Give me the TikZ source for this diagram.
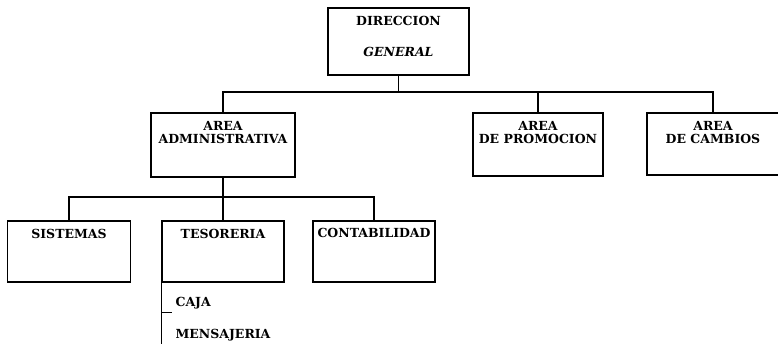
\documentclass[tikz,border=0pt]{standalone}
\usepackage{fontspec}
\setmainfont{DejaVu Serif}
\usepackage{tikz}
\usetikzlibrary{positioning,calc}

\begin{document}
\begin{tikzpicture}[x=1pt,y=-1pt,line width=1.1pt]
  \useasboundingbox (0,0) rectangle (778,344);
  \tikzstyle{unit_box}=[draw,rectangle,inner sep=0pt,minimum height=62pt]
  \tikzstyle{unit_text}=[inner sep=0pt,align=center,font=\fontsize{12.5}{13.5}\selectfont\bfseries]
  \tikzstyle{sub_text}=[inner sep=0pt,anchor=base west,font=\fontsize{12.5}{13.5}\selectfont\bfseries]
  % direccion
  \node[unit_box,minimum width=141pt,minimum height=67pt] (dir) at (398.5,41.5) {};
  \node[unit_text,below=8pt of dir.north] (dir_t) {DIRECCION\\[18pt]\itshape GENERAL};
  % areas
  \begin{scope}
    \node[unit_box,minimum width=144pt,minimum height=64pt] (admin) at (223,145) {};
    \node[unit_text,below=8pt of admin.north] (admin_t) {AREA\\ADMINISTRATIVA};
    \node[unit_box,minimum width=130pt,minimum height=63pt] (promo) at (538,144.5) {};
    \node[unit_text,below=8pt of promo.north] (promo_t) {AREA\\DE PROMOCION};
    \node[unit_box,minimum width=132pt,minimum height=62pt] (cambios) at (713,144) {};
    \node[unit_text,below=8pt of cambios.north] (cambios_t) {AREA\\DE CAMBIOS};
    \coordinate (bus1) at (398.5,92);
    \draw (dir.south) -- (bus1);
    \draw (admin.north) |- (bus1) -| (cambios.north);
    \draw (promo.north) -- (promo.north |- bus1);
  \end{scope}
  % departamentos
  \begin{scope}
    \node[unit_box,minimum width=123pt,minimum height=61pt] (sist) at (69,251.5) {};
    \node[unit_text,below=8pt of sist.north] (sist_t) {SISTEMAS};
    \node[unit_box,minimum width=122pt,minimum height=61pt] (teso) at (223,251.5) {};
    \node[unit_text,below=8pt of teso.north] (teso_t) {TESORERIA};
    \node[unit_box,minimum width=122pt,minimum height=61pt] (conta) at (374,251.5) {};
    \node[unit_text,below=7pt of conta.north] (conta_t) {CONTABILIDAD};
    \coordinate (bus2) at (223,197);
    \draw (admin.south) -- (bus2);
    \draw (sist.north) |- (bus2) -| (conta.north);
    \draw (teso.north) -- (bus2);
  \end{scope}
  % tesoreria
  \node[sub_text] (caja) at (175,306.5) {CAJA};
  \node[sub_text] (mensa) at (175,338.5) {MENSAJERIA};
  \coordinate (list_end) at ($(teso.south west)+(0,62)$);
  \coordinate (tick) at ($(teso.south west)+(0,30)$);
  \draw (teso.south west) -- (list_end);
  \draw (tick) -- ++(11,0);
\end{tikzpicture}
\end{document}
